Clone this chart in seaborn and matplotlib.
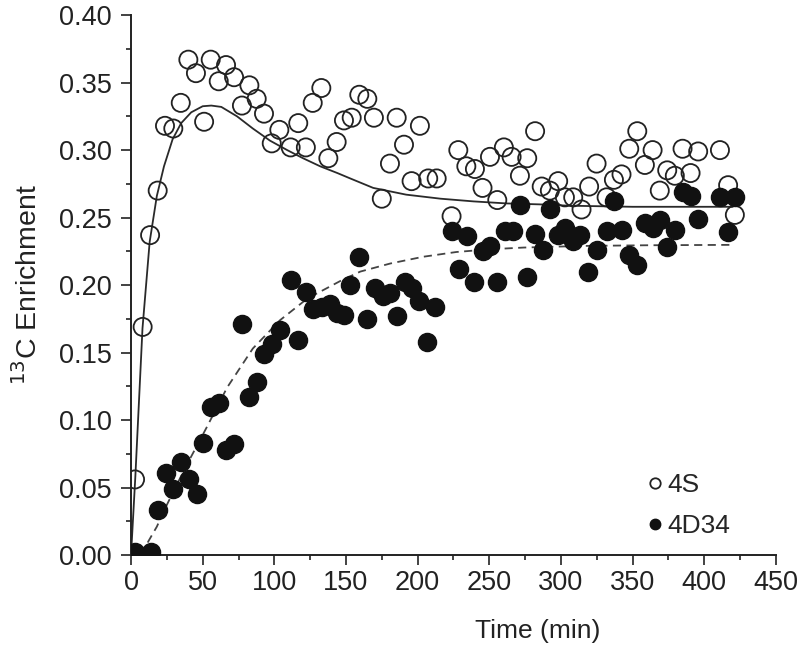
import numpy as np
import pandas as pd
import seaborn as sb
import matplotlib
matplotlib.use('Agg')
import matplotlib.pyplot as plt
from matplotlib.ticker import MultipleLocator, FormatStrFormatter
from matplotlib.lines import Line2D

# ---- data ----
# 4S (open circles)
time_4s = [2.8, 8.1, 13.3, 18.6, 23.7, 29.5, 34.7, 40.0, 45.3, 51.0,
           55.6, 61.2, 66.3, 71.9, 77.4, 82.6, 87.7, 92.8, 98.2, 103.5,
           111.4, 116.7, 122.0, 126.8, 132.8, 137.7, 143.5, 148.6, 154.0, 159.3,
           164.9, 169.5, 175.0, 180.7, 185.4, 190.5, 195.8, 201.6, 207.4, 213.3,
           223.7, 228.4, 234.0, 240.0, 245.3, 250.5, 255.6, 260.2, 265.6, 271.4,
           276.5, 282.0, 286.6, 292.3, 298.1, 302.8, 308.6, 314.4, 319.7, 324.9,
           331.9, 337.0, 342.3, 347.7, 353.3, 358.6, 364.0, 369.0, 374.2, 379.5,
           384.9, 390.5, 395.8, 411.0, 416.7, 421.4]
enr_4s = [0.056, 0.169, 0.237, 0.270, 0.318, 0.316, 0.335, 0.367, 0.357, 0.321,
          0.367, 0.351, 0.363, 0.354, 0.333, 0.348, 0.338, 0.327, 0.305, 0.315,
          0.302, 0.320, 0.302, 0.335, 0.346, 0.294, 0.306, 0.322, 0.324, 0.341,
          0.338, 0.324, 0.264, 0.290, 0.324, 0.304, 0.277, 0.318, 0.279, 0.279,
          0.251, 0.300, 0.288, 0.286, 0.272, 0.295, 0.263, 0.302, 0.295, 0.281,
          0.294, 0.314, 0.273, 0.270, 0.277, 0.265, 0.265, 0.256, 0.273, 0.290,
          0.265, 0.278, 0.282, 0.301, 0.314, 0.289, 0.300, 0.270, 0.285, 0.281,
          0.301, 0.283, 0.299, 0.300, 0.274, 0.252]

# 4D34 (filled circles)
time_4d = [2.8, 13.7, 19.0, 24.4, 29.5, 34.7, 40.5, 45.8, 50.5, 55.6,
           61.6, 66.3, 71.9, 77.2, 82.5, 87.7, 92.8, 98.2, 104.0, 111.4,
           116.7, 122.0, 127.2, 133.0, 138.8, 143.5, 148.6, 152.8, 159.3, 164.4,
           170.2, 175.6, 180.7, 185.3, 191.2, 195.8, 201.2, 206.7, 212.1, 223.7,
           229.0, 234.2, 239.3, 245.4, 250.5, 255.1, 261.0, 266.7, 271.4, 276.5,
           282.0, 287.2, 292.3, 298.1, 302.8, 308.2, 313.3, 319.0, 325.0, 331.9,
           337.0, 342.3, 347.7, 353.3, 358.6, 364.0, 369.0, 374.2, 379.5, 384.9,
           390.5, 395.8, 411.0, 416.7, 421.4]
enr_4d = [0.002, 0.002, 0.033, 0.061, 0.049, 0.069, 0.056, 0.045, 0.083, 0.110,
          0.113, 0.078, 0.082, 0.171, 0.117, 0.128, 0.149, 0.156, 0.167, 0.204,
          0.159, 0.195, 0.182, 0.184, 0.186, 0.179, 0.178, 0.200, 0.221, 0.175,
          0.198, 0.192, 0.194, 0.177, 0.202, 0.198, 0.188, 0.158, 0.184, 0.240,
          0.212, 0.236, 0.202, 0.225, 0.229, 0.202, 0.240, 0.240, 0.259, 0.206,
          0.238, 0.226, 0.256, 0.237, 0.242, 0.233, 0.237, 0.210, 0.226, 0.240,
          0.262, 0.241, 0.222, 0.215, 0.246, 0.242, 0.248, 0.228, 0.241, 0.269,
          0.266, 0.249, 0.265, 0.239, 0.265]

# fitted curves
fit_t_4s = [0, 3, 8, 13, 18, 23, 29, 35, 42, 50, 56, 63, 74, 85, 97, 109,
            120, 132, 144, 153, 169, 192, 216, 239, 262, 285, 306, 350, 420]
fit_y_4s = [0.0, 0.058, 0.168, 0.232, 0.266, 0.288, 0.308, 0.320, 0.328, 0.3325,
            0.333, 0.332, 0.325, 0.316, 0.307, 0.300, 0.294, 0.288, 0.283, 0.279,
            0.272, 0.267, 0.264, 0.262, 0.2605, 0.2598, 0.2588, 0.258, 0.258]
fit_t_4d = [8, 12, 18, 24, 30, 39, 53, 67, 85, 104, 123, 146, 160, 181,
            204, 227, 250, 274, 315, 360, 420]
fit_y_4d = [0.0, 0.010, 0.021, 0.035, 0.048, 0.067, 0.095, 0.124, 0.153, 0.174,
            0.190, 0.203, 0.210, 0.216, 0.221, 0.2245, 0.2265, 0.2278, 0.229,
            0.2295, 0.2298]

df_4s = pd.DataFrame({'time': time_4s, 'enrichment': enr_4s})
df_4d = pd.DataFrame({'time': time_4d, 'enrichment': enr_4d})
fit_4s = pd.DataFrame({'time': fit_t_4s, 'enrichment': fit_y_4s})
fit_4d = pd.DataFrame({'time': fit_t_4d, 'enrichment': fit_y_4d})

sb.set_style('ticks')
plt.rcParams['font.family'] = ['Liberation Sans', 'DejaVu Sans']

fig = plt.figure(figsize=(7.99, 6.58), dpi=100)
ax = fig.add_axes([0.164, 0.1565, 0.807, 0.8205])

sb.lineplot(data=fit_4s, x='time', y='enrichment', ax=ax, color='#2a2a2a',
            linewidth=1.3, sort=False, estimator=None)
sb.lineplot(data=fit_4d, x='time', y='enrichment', ax=ax, color='#444444',
            linewidth=1.3, sort=False, estimator=None, dashes=False)
ax.lines[-1].set_dashes((4.5, 3))

sb.scatterplot(data=df_4s, x='time', y='enrichment', ax=ax, s=170,
               facecolor='none', edgecolor='#222222', linewidth=1.3, zorder=3)
sb.scatterplot(data=df_4d, x='time', y='enrichment', ax=ax, s=170,
               color='#111111', edgecolor='#111111', linewidth=1.0, zorder=4)

ax.set_xlim(0, 450)
ax.set_ylim(0, 0.40)
ax.xaxis.set_major_locator(MultipleLocator(50))
ax.xaxis.set_minor_locator(MultipleLocator(25))
ax.yaxis.set_major_locator(MultipleLocator(0.05))
ax.yaxis.set_minor_locator(MultipleLocator(0.025))
ax.yaxis.set_major_formatter(FormatStrFormatter('%.2f'))
ax.tick_params(which='major', length=7, width=1.2, labelsize=19.5, colors='#222222')
ax.tick_params(which='minor', length=3.5, width=1.2, colors='#222222')
ax.tick_params(axis='y', which='major', pad=7)
for sp in ['left', 'bottom']:
    ax.spines[sp].set_linewidth(1.4)
    ax.spines[sp].set_color('#222222')
sb.despine(ax=ax)

ax.set_xlabel('Time (min)', fontsize=19, color='#222222')
ax.set_ylabel('$^{13}$C Enrichment', fontsize=20.5, color='#222222')
ax.xaxis.set_label_coords(0.63, -0.118)
ax.yaxis.set_label_coords(-0.136, 0.5)

handles = [
    Line2D([], [], linestyle='none', marker='o', markersize=7.5,
           markerfacecolor='none', markeredgecolor='#222222', markeredgewidth=1.3),
    Line2D([], [], linestyle='none', marker='o', markersize=7.5,
           markerfacecolor='#111111', markeredgecolor='#111111'),
]
ax.legend(handles, ['4S', '4D34'], loc='lower left', bbox_to_anchor=(0.762, -0.012),
          frameon=False, fontsize=19, handletextpad=0.1, labelspacing=0.62,
          handlelength=0.7)

fig.savefig('out.png', dpi=100)
